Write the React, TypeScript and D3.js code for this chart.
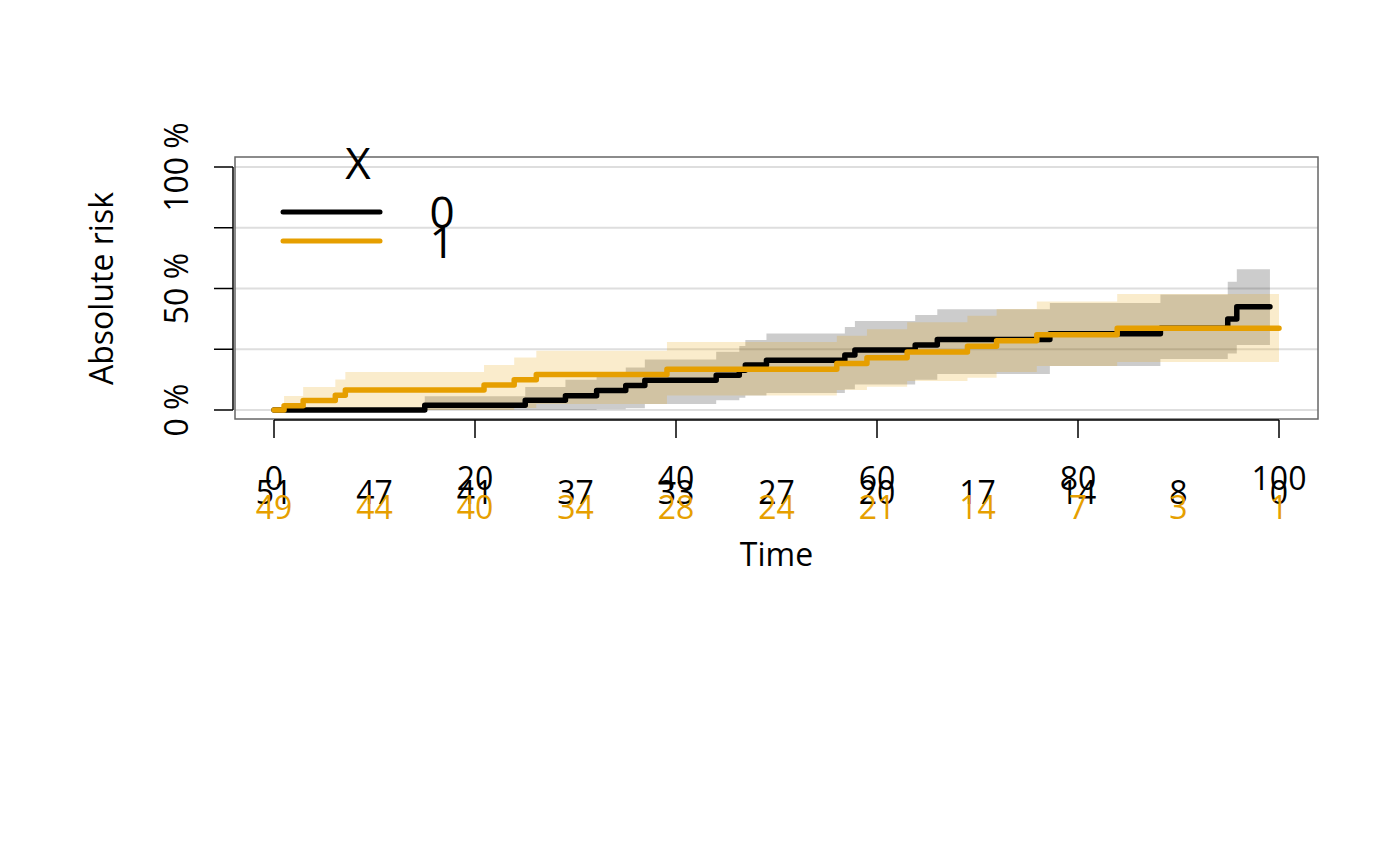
import React from "react";
import * as d3 from "d3";

// ---- data ----
const times0 = [0, 15.0, 25.0, 29.0, 32.1, 35.0, 36.9, 44.0, 46.3, 46.9, 49.0, 56.8, 57.8, 63.8, 66.0, 77.2, 88.2, 94.9, 95.8];
const end0 = 99.1;
const risk0 = [0, 2.0, 4.0, 5.9, 8.0, 10.1, 12.2, 14.3, 16.4, 18.5, 20.5, 22.6, 24.7, 26.7, 29.0, 31.4, 33.6, 37.5, 42.5];
const lower0 = [0, 0, 0, 0, 0.3, 0.7, 2.5, 4.0, 5.0, 6.0, 7.0, 8.5, 10.5, 12.5, 14.8, 18.1, 21.0, 23.3, 26.7];
const upper0 = [0, 5.7, 9.5, 12.5, 15.0, 17.5, 20.8, 24.0, 26.3, 28.8, 31.5, 34.2, 36.6, 39.1, 41.5, 44.0, 47.5, 52.8, 57.9];

const times1 = [0, 1.0, 2.9, 6.1, 7.1, 20.9, 23.9, 26.1, 39.1, 56.0, 59.0, 63.0, 69.0, 71.9, 75.9, 83.9];
const end1 = 100;
const risk1 = [0, 1.8, 3.9, 6.1, 8.2, 10.3, 12.4, 14.6, 16.8, 19.1, 21.5, 23.9, 26.2, 28.5, 31.0, 33.6];
const lower1 = [0, 0, 0, 0, 0, 0, 0.8, 2.5, 6.0, 8.2, 9.6, 11.9, 13.3, 15.6, 18.1, 19.8];
const upper1 = [0, 5.8, 9.5, 12.6, 15.6, 18.5, 21.6, 24.4, 28.0, 30.6, 33.2, 36.1, 38.8, 41.6, 44.6, 47.7];

const xTicks = [0, 20, 40, 60, 80, 100];
const yTicks = [0, 25, 50, 75, 100];
const yTickLabels = ["0 %", "", "50 %", "", "100 %"];
const tableTimes = [0, 10, 20, 30, 40, 50, 60, 70, 80, 90, 100];
const atRisk0 = [51, 47, 41, 37, 33, 27, 20, 17, 14, 8, 0];
const atRisk1 = [49, 44, 40, 34, 28, 24, 21, 14, 7, 3, 1];
const groups = ["0", "1"];
const legendTitle = "X";

const COL0 = "#000000";
const COL1 = "#E69F00";
const FONT = "'Open Sans', 'Noto Sans', sans-serif";

type Pt = { t: number; v: number; lo: number; hi: number };
function series(times: number[], risk: number[], lo: number[], hi: number[], end: number): Pt[] {
  const pts = times.map((t, i) => ({ t, v: risk[i], lo: lo[i], hi: hi[i] }));
  const last = pts[pts.length - 1];
  pts.push({ t: end, v: last.v, lo: last.lo, hi: last.hi });
  return pts;
}

export default function App() {
  const x = d3.scaleLinear().domain([0, 100]).range([274, 1279]);
  const y = d3.scaleLinear().domain([0, 100]).range([410, 167]);
  const box = { l: 235, r: 1318, t: 157, b: 419 };
  const fs = 32;

  const s0 = series(times0, risk0, lower0, upper0, end0);
  const s1 = series(times1, risk1, lower1, upper1, end1);

  const area = d3
    .area<Pt>()
    .x((d) => x(d.t))
    .y0((d) => y(d.lo))
    .y1((d) => y(d.hi))
    .curve(d3.curveStepAfter);
  const line = d3
    .line<Pt>()
    .x((d) => x(d.t))
    .y((d) => y(d.v))
    .curve(d3.curveStepAfter);

  return (
    <svg
      width={1400}
      height={866}
      style={{ position: "absolute", left: 0, top: 0, background: "#fff" }}
      fontFamily={FONT}
    >
      <rect x={0} y={0} width={1400} height={866} fill="#fff" />
      {/* grid */}
      {yTicks.map((t) => (
        <line key={"g" + t} x1={box.l} x2={box.r} y1={y(t)} y2={y(t)} stroke="#dedede" strokeWidth={2} />
      ))}
      {/* bands */}
      <path d={area(s0) || ""} fill="rgba(0,0,0,0.2)" />
      <path d={area(s1) || ""} fill="rgba(230,159,0,0.2)" />
      {/* lines */}
      <path d={line(s0) || ""} fill="none" stroke={COL0} strokeWidth={5.5} strokeLinecap="round" strokeLinejoin="round" />
      <path d={line(s1) || ""} fill="none" stroke={COL1} strokeWidth={5.5} strokeLinecap="round" strokeLinejoin="round" />
      {/* box */}
      <rect x={box.l} y={box.t} width={box.r - box.l} height={box.b - box.t} fill="none" stroke="#666" strokeWidth={1.5} />
      {/* y axis */}
      <line x1={233} x2={233} y1={y(0)} y2={y(100)} stroke="#000" strokeWidth={1.5} />
      {yTicks.map((t, i) => (
        <g key={"yt" + t}>
          <line x1={214} x2={233} y1={y(t)} y2={y(t)} stroke="#000" strokeWidth={1.5} />
          {yTickLabels[i] && (
            <text transform={`translate(188,${y(t)}) rotate(-90)`} textAnchor="middle" fontSize={fs} fill="#000">
              {yTickLabels[i]}
            </text>
          )}
        </g>
      ))}
      <text transform={`translate(113,${(y(0) + y(100)) / 2}) rotate(-90)`} textAnchor="middle" fontSize={fs} fill="#000">
        Absolute risk
      </text>
      {/* x axis */}
      <line x1={x(0)} x2={x(100)} y1={420} y2={420} stroke="#000" strokeWidth={1.5} />
      {xTicks.map((t) => (
        <g key={"xt" + t}>
          <line x1={x(t)} x2={x(t)} y1={420} y2={438} stroke="#000" strokeWidth={1.5} />
          <text x={x(t)} y={490} textAnchor="middle" fontSize={fs} fill="#000">
            {t}
          </text>
        </g>
      ))}
      {/* risk table */}
      {tableTimes.map((t, i) => (
        <text key={"r0" + t} x={x(t)} y={504} textAnchor="middle" fontSize={fs} fill={COL0}>
          {atRisk0[i]}
        </text>
      ))}
      {tableTimes.map((t, i) => (
        <text key={"r1" + t} x={x(t)} y={519} textAnchor="middle" fontSize={fs} fill={COL1}>
          {atRisk1[i]}
        </text>
      ))}
      <text x={(x(0) + x(100)) / 2} y={566} textAnchor="middle" fontSize={fs} fill="#000">
        Time
      </text>
      {/* legend */}
      <text x={358} y={179} textAnchor="middle" fontSize={44} fill="#000">
        {legendTitle}
      </text>
      {groups.map((g, i) => (
        <g key={"lg" + g}>
          <line x1={283} x2={380} y1={212 + i * 29} y2={212 + i * 29} stroke={i === 0 ? COL0 : COL1} strokeWidth={5} strokeLinecap="round" />
          <text x={442} y={228 + i * 30} textAnchor="middle" fontSize={44} fill="#000">
            {g}
          </text>
        </g>
      ))}
    </svg>
  );
}
